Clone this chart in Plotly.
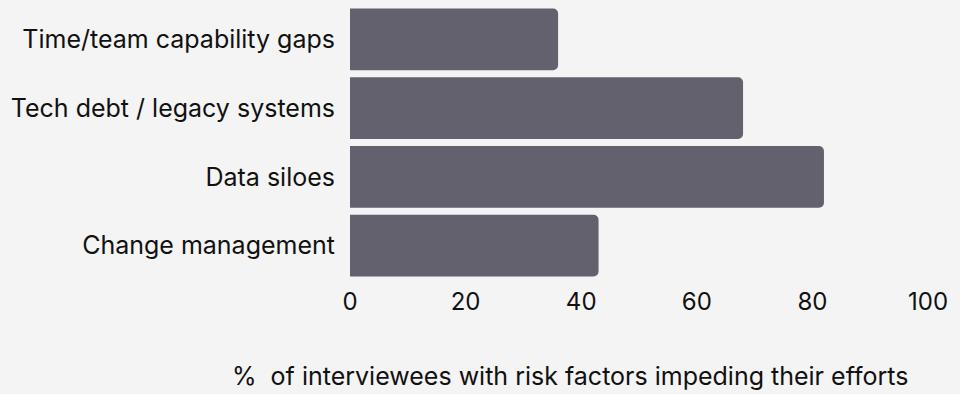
import plotly.graph_objects as go

# Risk factors, listed bottom-to-top as drawn on the category axis
categories = ["Change management", "Data siloes", "Tech debt / legacy systems", "Time/team capability gaps"]
values = [43, 82, 68, 36]
x_ticks = [0, 20, 40, 60, 80, 100]
x_title = "%  of interviewees with risk factors impeding their efforts"

BG = "#f4f4f4"
BAR = "#62616d"
FONT = "Inter, Roboto, sans-serif"

ML, MR, MT, MB = 350, 32, 5, 114
W, H = 960, 394

fig = go.Figure(
    go.Bar(
        x=values,
        y=categories,
        orientation="h",
        marker=dict(color=BAR, line=dict(width=0)),
        hoverinfo="skip",
    )
)

fig.update_layout(
    width=W,
    height=H,
    paper_bgcolor=BG,
    plot_bgcolor=BG,
    margin=dict(l=ML, r=MR, t=MT, b=MB),
    bargap=0.1,
    barcornerradius=5,
    showlegend=False,
    font=dict(family=FONT, color="#111111", size=24),
)

fig.update_xaxes(
    range=[0, 100],
    tickvals=x_ticks,
    ticktext=[str(t) for t in x_ticks],
    showgrid=False,
    zeroline=False,
    showline=False,
    ticks="",
    tickfont=dict(size=24),
    ticklabelstandoff=5,
)
fig.update_yaxes(
    categoryorder="array",
    categoryarray=categories,
    showgrid=False,
    zeroline=False,
    showline=False,
    ticks="",
    tickfont=dict(size=25),
    ticklabelstandoff=14,
)

fig.add_annotation(
    text=x_title,
    xref="paper",
    yref="paper",
    x=(570 - ML) / (W - ML - MR),
    y=-(376 - (H - MB)) / (H - MT - MB),
    xanchor="center",
    yanchor="middle",
    showarrow=False,
    font=dict(family=FONT, size=25, color="#111111"),
)

fig.write_html("out.html")
